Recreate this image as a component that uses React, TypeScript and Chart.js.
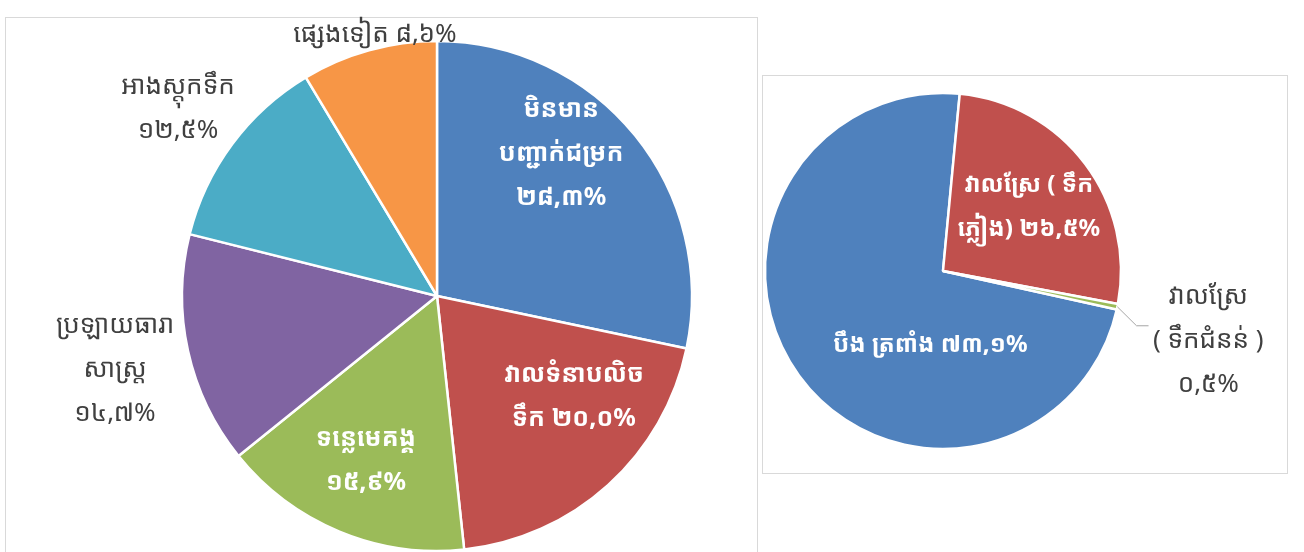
import React, { useEffect, useRef } from "react";
import { Chart, registerables } from "chart.js";
Chart.register(...registerables);

const W = 1304;
const H = 552;
const FONT = '"Noto Sans Khmer", "Khmer OS Siemreap", "Khmer OS", "Noto Sans", sans-serif';
const KHMER_DIGITS = "០១២៣៤៥៦៧៨៩";

// ---- Left chart: sources ----
const sourceCategories = [
  "មិនមានបញ្ជាក់ជម្រក",
  "វាលទំនាបលិចទឹក",
  "ទន្លេមេគង្គ",
  "ប្រឡាយធារាសាស្ត្រ",
  "អាងស្តុកទឹក",
  "ផ្សេងទៀត",
];
const sourceValues = [28.3, 20.0, 15.9, 14.7, 12.5, 8.6];
const sourceColors = ["#4F81BD", "#C0504D", "#9BBB59", "#8064A2", "#4BACC6", "#F79646"];
const sourceLabelLines = [
  ["មិនមាន", "បញ្ជាក់ជម្រក", "{v}"],
  ["វាលទំនាបលិច", "ទឹក {v}"],
  ["ទន្លេមេគង្គ", "{v}"],
  ["ប្រឡាយធារា", "សាស្ត្រ", "{v}"],
  ["អាងស្តុកទឹក", "{v}"],
  ["ផ្សេងទៀត {v}"],
];
const sourceLabelInside = [true, true, true, false, false, false];
const sourceLabelAngle = [-9.8, -11.5, 0.8, -0.4, -0.7, 2.1];
const sourceLabelRadial = [0.74, 0.667, 0.704, 1.295, 1.253, 1.052];

// ---- Right chart: fields ----
const fieldCategories = ["បឹង ត្រពាំង", "វាលស្រែ (ទឹកភ្លៀង)", "វាលស្រែ (ទឹកជំនន់)"];
const fieldValues = [73.1, 26.5, 0.5];
const fieldColors = ["#4F81BD", "#C0504D", "#9BBB59"];
const fieldLabelLines = [
  ["បឹង ត្រពាំង {v}"],
  ["វាលស្រែ ( ទឹក", "ភ្លៀង) {v}"],
  ["វាលស្រែ", "( ទឹកជំនន់ )", "{v}"],
];
const fieldLabelInside = [true, true, false];
const fieldLabelAngle = [-44.1, 0.4, 3.0];
const fieldLabelRadial = [0.42, 0.6, 1.54];
const fieldLeaders = [null, null, { radial: 1.13, angle: 4.2, tail: 12 }];

function khmerNum(v: number): string {
  return v
    .toFixed(1)
    .replace(".", ",")
    .replace(/[0-9]/g, (d) => KHMER_DIGITS[Number(d)]);
}

const sliceLabels = {
  id: "sliceLabels",
  afterDatasetsDraw(chart: any, _args: any, opts: any) {
    const { ctx } = chart;
    const meta = chart.getDatasetMeta(0);
    const values = chart.data.datasets[0].data as number[];
    meta.data.forEach((arc: any, i: number) => {
      const p = arc.getProps(["x", "y", "startAngle", "endAngle", "outerRadius"], true);
      const mid = (p.startAngle + p.endAngle) / 2;
      const a = mid + (opts.angle[i] * Math.PI) / 180;
      const r = p.outerRadius * opts.radial[i];
      const cx = p.x + Math.cos(a) * r;
      const cy = p.y + Math.sin(a) * r;
      const lines: string[] = opts.lines[i].map((s: string) => s.replace("{v}", khmerNum(values[i]) + "%"));
      ctx.save();
      const lead = opts.leaders ? opts.leaders[i] : null;
      if (lead) {
        const sx = p.x + Math.cos(mid) * p.outerRadius;
        const sy = p.y + Math.sin(mid) * p.outerRadius;
        const ea = mid + (lead.angle * Math.PI) / 180;
        const ex = p.x + Math.cos(ea) * p.outerRadius * lead.radial;
        const ey = p.y + Math.sin(ea) * p.outerRadius * lead.radial;
        ctx.strokeStyle = "#a6a6a6";
        ctx.lineWidth = 1;
        ctx.beginPath();
        ctx.moveTo(sx, sy);
        ctx.lineTo(ex, ey);
        ctx.lineTo(ex + (Math.cos(ea) >= 0 ? lead.tail : -lead.tail), ey);
        ctx.stroke();
      }
      const inside = opts.inside[i];
      ctx.font = inside ? `bold ${opts.insideSize}px ${FONT}` : `${opts.outsideSize}px ${FONT}`;
      ctx.fillStyle = inside ? "#ffffff" : "#404040";
      ctx.textAlign = "center";
      ctx.textBaseline = "middle";
      const L = opts.lineHeight;
      lines.forEach((ln, k) => {
        ctx.fillText(ln, cx, cy - ((lines.length - 1) * L) / 2 + k * L);
      });
      ctx.restore();
    });
  },
};

function PieCanvas(props: {
  labels: string[];
  values: number[];
  colors: string[];
  radius: number;
  rotation: number;
  padding: { left: number; right: number; top: number; bottom: number };
  labelOpts: any;
}) {
  const ref = useRef<HTMLCanvasElement>(null);
  useEffect(() => {
    if (!ref.current) return;
    const chart = new Chart(ref.current, {
      type: "pie",
      data: {
        labels: props.labels,
        datasets: [
          {
            data: props.values,
            backgroundColor: props.colors,
            borderColor: "#ffffff",
            borderWidth: 2.5,
            radius: props.radius,
          } as any,
        ],
      },
      options: {
        responsive: false,
        animation: false,
        events: [],
        rotation: props.rotation,
        radius: props.radius,
        layout: { padding: props.padding },
        plugins: {
          legend: { display: false },
          tooltip: { enabled: false },
          sliceLabels: props.labelOpts,
        } as any,
      } as any,
      plugins: [sliceLabels],
    });
    return () => chart.destroy();
  }, []);
  return (
    <canvas
      ref={ref}
      width={W}
      height={H}
      style={{ position: "absolute", left: 0, top: 0, width: W, height: H }}
    />
  );
}

export default function App() {
  return (
    <div
      style={{
        position: "absolute",
        left: 0,
        top: 0,
        width: W,
        height: H,
        overflow: "hidden",
        background: "#ffffff",
      }}
    >
      <div
        style={{
          position: "absolute",
          left: 5,
          top: 17,
          width: 751,
          height: 600,
          border: "1px solid #d9d9d9",
        }}
      />
      <div
        style={{
          position: "absolute",
          left: 762,
          top: 75,
          width: 524,
          height: 397,
          border: "1px solid #d9d9d9",
        }}
      />
      <PieCanvas
        labels={sourceCategories}
        values={sourceValues}
        colors={sourceColors}
        radius={255}
        rotation={0}
        padding={{ left: 182, right: 612, top: 41, bottom: 1 }}
        labelOpts={{
          lines: sourceLabelLines,
          inside: sourceLabelInside,
          angle: sourceLabelAngle,
          radial: sourceLabelRadial,
          insideSize: 25,
          outsideSize: 26,
          lineHeight: 44,
        }}
      />
      <PieCanvas
        labels={fieldCategories}
        values={fieldValues}
        colors={fieldColors}
        radius={178}
        rotation={102.5}
        padding={{ left: 765, right: 183, top: 93, bottom: 103 }}
        labelOpts={{
          lines: fieldLabelLines,
          inside: fieldLabelInside,
          angle: fieldLabelAngle,
          radial: fieldLabelRadial,
          leaders: fieldLeaders,
          insideSize: 24,
          outsideSize: 26,
          lineHeight: 44,
        }}
      />
    </div>
  );
}
